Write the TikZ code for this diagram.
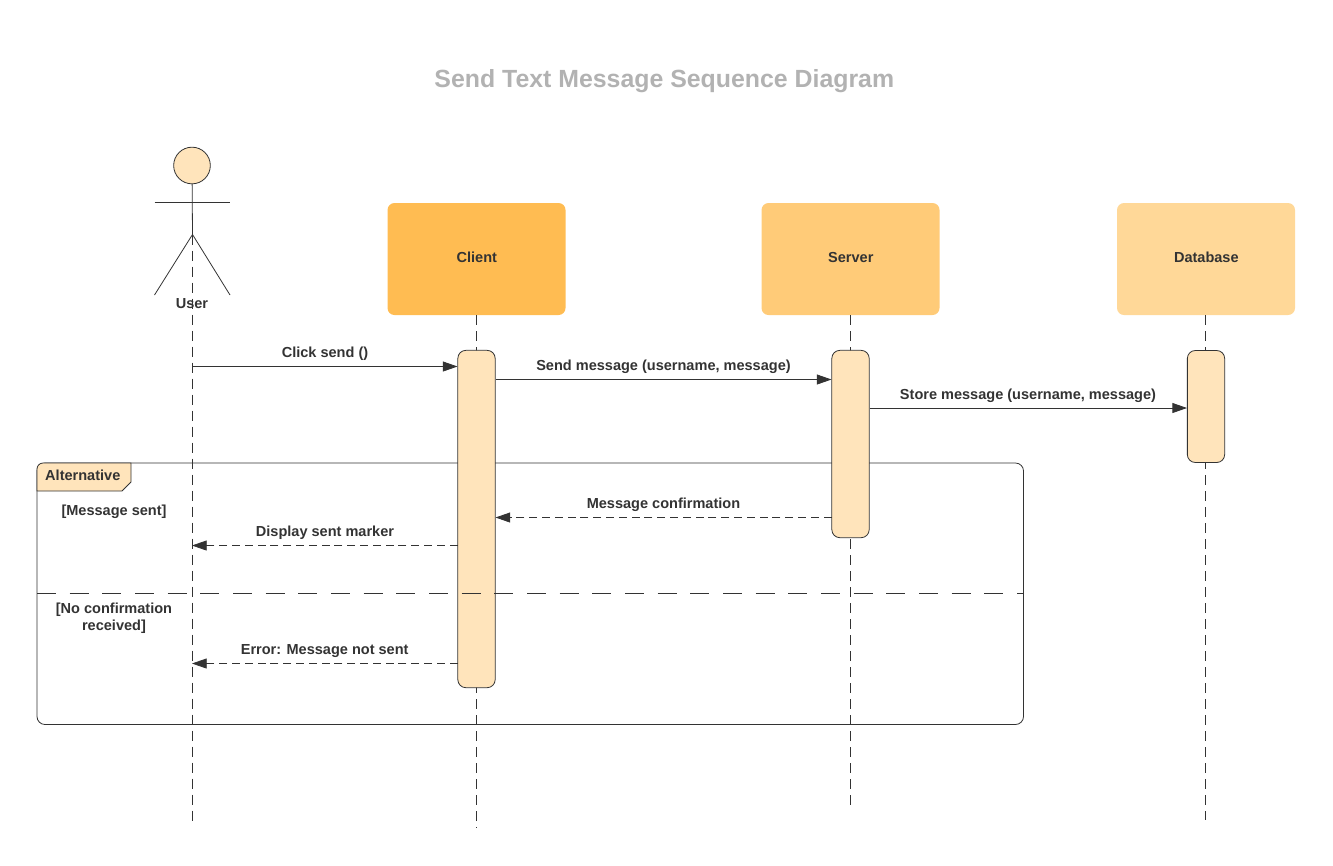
\documentclass[tikz,border=0pt]{standalone}
\usepackage{fontspec}
\setmainfont{Liberation Sans}
\usetikzlibrary{arrows.meta,calc}
\definecolor{ink}{HTML}{333333}
\definecolor{pale}{HTML}{FFE4BB}
\definecolor{clientc}{HTML}{FFBC52}
\definecolor{serverc}{HTML}{FFCB78}
\definecolor{dbc}{HTML}{FFD898}
\tikzset{
  txt/.style={font=\bfseries\fontsize{10.9}{13}\selectfont,text=ink,inner sep=0pt,align=center},
  headbox/.style={rounded corners=5.25pt,minimum width=133.5pt,minimum height=84pt,inner sep=0pt,draw=none},
  activation/.style={draw=ink,fill=pale,rounded corners=6pt,minimum width=28pt,inner sep=0pt,line width=.6pt},
  lifeline/.style={draw=ink,line width=.6pt,dash pattern=on 7.5pt off 4.5pt},
  syncmsg/.style={draw=ink,line width=.6pt,-{Triangle[length=11pt,width=7.5pt,color=ink]}},
  retmsg/.style={draw=ink,line width=.6pt,dash pattern=on 6pt off 3.6pt,-{Triangle[length=11pt,width=7.5pt,color=ink]}},
  stick/.style={draw=ink,line width=.6pt},
  framebox/.style={draw=ink,line width=.6pt,rounded corners=6pt}
}
\begin{document}
\begin{tikzpicture}[x=0.75pt,y=-0.75pt]
\useasboundingbox (0,0) rectangle (1333,865);
\node[font=\bfseries\fontsize{18.65}{22}\selectfont,text=black!30,inner sep=0pt] (title) at (664.3,81.2) {Send Text Message Sequence Diagram};

% heads
\node[headbox,fill=clientc] (client) at (476.5,259) {};
\node[headbox,fill=serverc] (server) at (850.5,259) {};
\node[headbox,fill=dbc] (database) at (1206,259) {};
\node[txt] (clientl) at (476.8,257.5) {Client};
\node[txt] (serverl) at (850.8,257.5) {Server};
\node[txt] (databasel) at (1206.3,257.5) {Database};

% lifeline ends
\coordinate (hip) at (192.5,234.5);
\coordinate (userend) at (192.5,822);
\coordinate (clientend) at (476.5,828);
\coordinate (serverend) at (850.5,808);
\coordinate (dbend) at (1205.5,820);
\coordinate (clienttop) at (476.5,315);
\coordinate (servertop) at (850.5,315);
\coordinate (dbtop) at (1205.5,315);
\draw[lifeline] (hip) -- (userend);
\draw[lifeline] (clienttop) -- (clientend);
\draw[lifeline] (servertop) -- (serverend);
\draw[lifeline] (dbtop) -- (dbend);

% frame
\draw[framebox] (37,463) rectangle (1023.5,724.5);
\draw[draw=ink,line width=.6pt,fill=pale] (37,491) -- (37,469) arc[start angle=180,end angle=270,radius=6] -- (131,463) -- (131,482) -- (122,491) -- cycle;
\node[txt] (altl) at (82.8,475) {Alternative};
\node[txt] (g1) at (114,511.8) {[Message sent]};
\node[txt] (g2) at (114,618.3) {[No confirmation\\received]};

% activations
\node[activation,minimum height=253pt] (aclient) at (476.5,519) {};
\node[activation,minimum height=140.5pt] (aserver) at (850.5,444) {};
\node[activation,minimum height=84pt] (adb) at (1206,406.5) {};

% alternative separator, above the activations
\coordinate (fl) at (37,593.5);
\coordinate (fr) at (1023.5,593.5);
\draw[draw=ink,line width=.6pt,dash pattern=on 14.3pt off 10.2pt] (fl) -- (fr);

% actor
\node[circle,draw=ink,fill=pale,line width=.6pt,minimum size=27.5pt,inner sep=0pt] (head) at (192,165.5) {};
\coordinate (armL) at (154.5,202.5);
\coordinate (armR) at (230,202.5);
\coordinate (footL) at (154.5,295);
\coordinate (footR) at (230,295);
\draw[stick] (head) -- (hip);
\draw[stick] (armL) -- (armR);
\draw[stick] (footL) -- (hip) -- (footR);
\node[txt] (user) at (192,303.5) {User};

% messages
\coordinate (u1) at (192.5,366.5);
\coordinate (c1) at (457.5,366.5);
\draw[syncmsg] (u1) -- (c1);
\node[txt] at (325,353.7) {Click send ()};
\coordinate (c2) at (495.5,379.5);
\coordinate (s2) at (831.5,379.5);
\draw[syncmsg] (c2) -- (s2);
\node[txt] at (663.5,366.8) {Send message (username, message)};
\coordinate (s3) at (869.5,408);
\coordinate (d3) at (1187,408);
\draw[syncmsg] (s3) -- (d3);
\node[txt] at (1028,395.7) {Store message (username, message)};
\coordinate (s4) at (831.5,517.5);
\coordinate (c4) at (495.5,517.5);
\draw[retmsg] (s4) -- (c4);
\node[txt] at (663.5,504.7) {Message confirmation};
\coordinate (c5) at (457.5,545.5);
\coordinate (u5) at (192,545.5);
\draw[retmsg] (c5) -- (u5);
\node[txt] at (325,532.7) {Display sent marker};
\coordinate (c6) at (457.5,663.5);
\coordinate (u6) at (192,663.5);
\draw[retmsg] (c6) -- (u6);
\node[txt] at (324.7,651.2) {Error: Message not sent};
\end{tikzpicture}
\end{document}
